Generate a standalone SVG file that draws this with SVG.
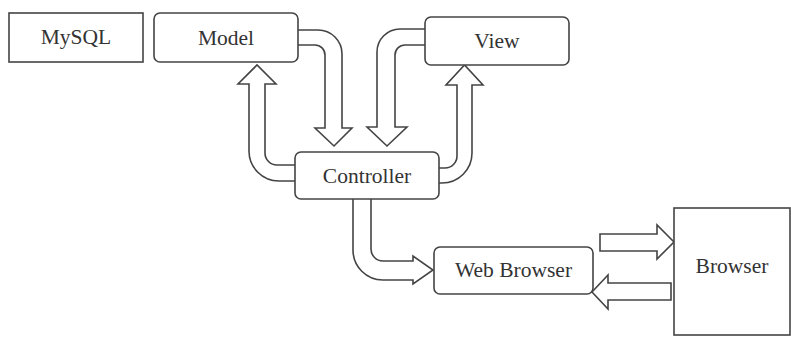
<svg xmlns="http://www.w3.org/2000/svg" width="791" height="338" viewBox="0 0 791 338">
<style>
.box{fill:#fff;stroke:#444;stroke-width:1.6}
.arr{fill:#fff;stroke:#444;stroke-width:1.6;stroke-linejoin:miter}
.lbl{font-family:"Liberation Serif","Times New Roman",serif;font-size:21.5px;fill:#333;text-anchor:middle}
</style>
<rect width="791" height="338" fill="#fff"/>
<g id="connectors">
<path class="arr" d="M298,30 H318 A24,24 0 0 1 342,54 V128 H352 L334,146 L315,128 H325 V55 A10,10 0 0 0 315,45 H298"/>
<path class="arr" d="M295,165 H277 A12,12 0 0 1 265,153 V84 H276 L257,65 L238,84 H249 V151 A30,30 0 0 0 279,181 H295"/>
<path class="arr" d="M425,29 H400 A23,23 0 0 0 377,52 V127 H367 L387,146 L407,127 H395 V55 A10,10 0 0 1 405,45 H425"/>
<path class="arr" d="M439,168 H445 A12,12 0 0 0 457,156 V85 H446 L464.5,65 L483,85 H472 V153 A30,30 0 0 1 442,183 H439"/>
<path class="arr" d="M353,199 V250 A30,30 0 0 0 383,280 H413 V284 L433,270 L413,256 V261 H383 A12,12 0 0 1 371,249 V199"/>
<path class="arr" d="M600,234 H657 V225 L674,242 L657,259 V251 H600 Z"/>
<path class="arr" d="M671,283 H608 V275 L592,292 L608,309 V300 H671 Z"/>
</g>
<g id="mysql">
<rect class="box" x="9" y="13" width="134" height="49"/>
<text class="lbl" x="76" y="44">MySQL</text>
</g>
<g id="model">
<rect class="box" x="154" y="13" width="144" height="49" rx="6"/>
<text class="lbl" x="226" y="45">Model</text>
</g>
<g id="view">
<rect class="box" x="425" y="17" width="144" height="48" rx="6"/>
<text class="lbl" x="497" y="48">View</text>
</g>
<g id="controller">
<rect class="box" x="295" y="152" width="144" height="47" rx="6"/>
<text class="lbl" x="367" y="183">Controller</text>
</g>
<g id="web-browser">
<rect class="box" x="434" y="247" width="159" height="47" rx="6"/>
<text class="lbl" x="513.5" y="277">Web Browser</text>
</g>
<g id="browser">
<rect class="box" x="674" y="208" width="116" height="127"/>
<text class="lbl" x="732" y="273">Browser</text>
</g>
</svg>
